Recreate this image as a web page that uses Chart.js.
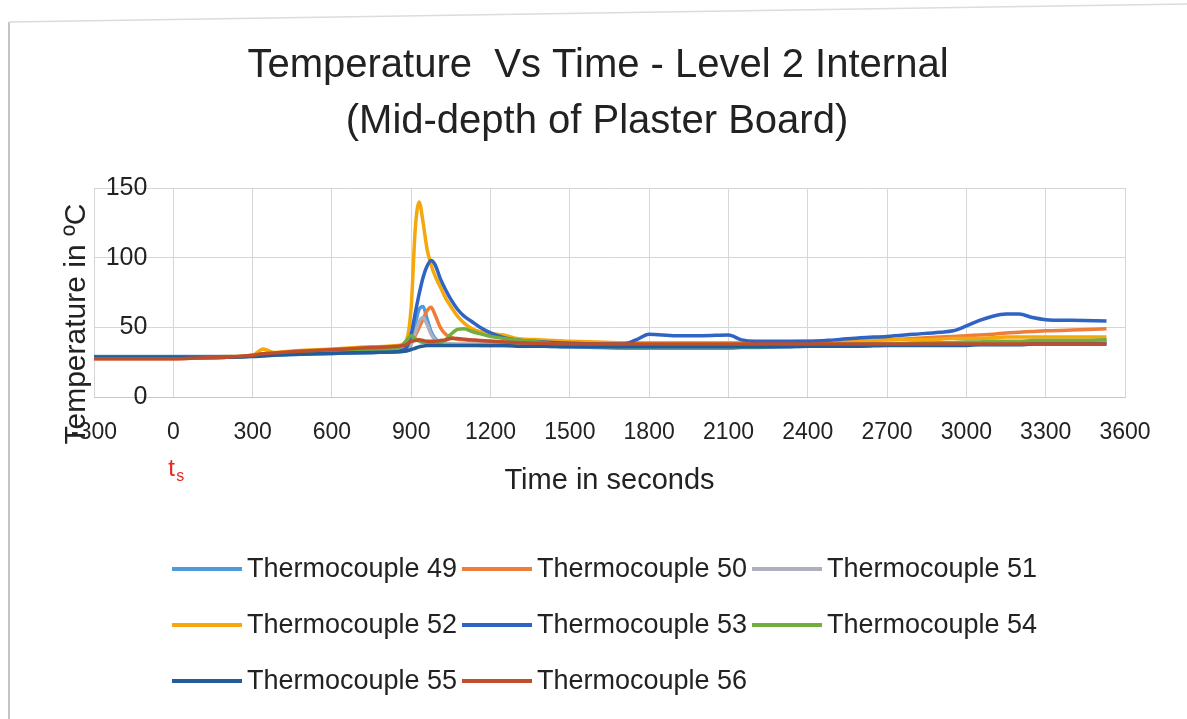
<!DOCTYPE html>
<html>
<head>
<meta charset="utf-8">
<title>Temperature Vs Time - Level 2 Internal</title>
<script src="https://cdn.jsdelivr.net/npm/chart.js@4.4.1/dist/chart.umd.min.js"></script>
<style>
  html, body { margin: 0; padding: 0; background: #ffffff; }
  #wrap { position: relative; width: 1187px; height: 719px; }
</style>
</head>
<body>
<div id="wrap"><canvas id="c"></canvas></div>
<script>
// ---- data ----
const titleLines = ['Temperature  Vs Time - Level 2 Internal', '(Mid-depth of Plaster Board)'];
const xTitle = 'Time in seconds';
const yTitle = 'Temperature in ºC';
const xTicks = [-300, 0, 300, 600, 900, 1200, 1500, 1800, 2100, 2400, 2700, 3000, 3300, 3600];
const yTicks = [0, 50, 100, 150];
const seriesNames = ['Thermocouple 49', 'Thermocouple 50', 'Thermocouple 51', 'Thermocouple 52',
                     'Thermocouple 53', 'Thermocouple 54', 'Thermocouple 55', 'Thermocouple 56'];

const times = [-300,-200,-100,0,100,200,300,340,380,450,
               550,650,750,850,880,900,915,930,945,960,
               975,990,1010,1030,1050,1075,1100,1130,1160,1200,
               1250,1300,1400,1500,1600,1700,1750,1800,1900,2000,
               2100,2150,2200,2300,2400,2500,2600,2700,2800,2900,
               2950,3000,3050,3100,3150,3200,3250,3300,3400,3530];

const tc49 = [29,29,29,29,29,29,29.5,30,30,30.5,
              31,31.5,32,32.5,33,38,52,63,65,56,
              47,42,39.5,38.5,38,37.5,37.5,37.5,37,37,
              37,37,36.5,36,35.5,35,35,35,35,35,
              35,35.5,35.5,36,36.5,37,37,37.5,38,38,
              38.5,38.5,39,39,39,39.5,39.5,40,40,40];
const tc50 = [27.5,27.5,27.5,27.5,28,28.5,30,31,31.5,32.5,
              33.5,34.5,35,36,37,40,44,50,56,62,
              64.5,59,50,45,43,41.5,41,40.5,40,40,
              39.5,39,38.5,38,38,38,38,38,38,38.5,
              38.5,38.5,39,39,39.5,40,40.5,41,42,43,
              43.5,44,44.5,45,46,46.5,47,47.5,48,49];
const tc51 = [28,28,28,28,28,28.5,29.5,30,30.5,31,
              32,33,33.5,34,35,38,46,54,57,52,
              45,41,39,38.5,38,38,38,38,38,38,
              38,38,37.5,37,37,37,37,37,37,37,
              37,37,37,37.5,37.5,38,38,38,38.5,38.5,
              38.5,39,39,39,39.5,39.5,39.5,40,40,40.5];
const tc52 = [28,28,28,28,28.5,29,30,34.5,32,33,
              34,35,36,37,40,65,120,140,125,106,
              95,87,79,71,65,58,53,49,47,45.5,
              44.5,42,41,40,39.5,39,39,39,39,39,
              39,39,39,39.5,40,40,40.5,41,41,41.5,
              42,42,42,42.5,43,43,43,43,43,43];
const tc53 = [28.5,28.5,28.5,28.5,28.5,28.5,29.5,30,30.5,31,
              31.5,32,32,33,35,45,60,74,86,94,
              98,95,85,77,70,63,58,54,50,46,
              42.5,41,39.5,38.5,38,38,41,45,44,44,
              44.5,41,40,40,40,41,42.5,43.5,45,46.5,
              47.5,51,55,58,59.5,59.5,57,55.5,55,54.5];
const tc54 = [28,28,28,28,28,28.5,29.5,30,30.5,31.5,
              32.5,33.5,34,35,40,44,42,40,39,38.5,
              38,38,39,41,45,48.5,49,47,45.5,43.5,
              42,41,39,37.5,36.5,36,36,36,36,36,
              36,36,36,36.5,37,37.5,38,38,38.5,39,
              39,39.5,39.5,40,40,40,40.5,40.5,40.5,41];
const tc55 = [28.5,28.5,28.5,28.5,28.5,28.5,29,29.5,30,30.5,
              31,31.5,32,32.5,33,34,35,36,36.5,37,
              37,37,37,37,37,37,37,37,37,37,
              37,36.5,36.5,36,36,36,36,36,36,36,
              36,36,36,36,36.5,36.5,36.5,37,37,37,
              37,37,37.5,37.5,37.5,37.5,38,38,38,38];
const tc56 = [27.5,27.5,27.5,27.5,28,28.5,30,31,31.5,32.5,
              33.5,34.5,35.5,36.5,37.5,40,40.5,41,40.5,40,
              40,40,40.5,41,42,42,41.5,41,40.5,40,
              39.5,39,38.5,38,38,38,38,38,38,38,
              38,38,38,38,38,38,38,38,38,38,
              38,38,38,38,38,38,38,38,38,38];

const seriesValues = [tc49, tc50, tc51, tc52, tc53, tc54, tc55, tc56];
const seriesColors = ['#4C9BDD', '#EF7D3A', '#AEB0BE', '#F5A80C', '#2F63C4', '#70AE42', '#225C9A', '#BE4E2C'];

// ---- styling ----
const FONT = "'Liberation Sans', Arial, sans-serif";
const TEXT = '#222222';

const datasets = seriesValues.map((vals, i) => ({
  label: seriesNames[i],
  data: times.map((t, k) => ({ x: t, y: vals[k] })),
  borderColor: seriesColors[i],
  backgroundColor: seriesColors[i],
  borderWidth: 3.5,
  pointRadius: 0,
  cubicInterpolationMode: 'monotone',
  order: seriesValues.length - i
}));

const decorPlugin = {
  id: 'decor',
  afterDraw(chart) {
    const ctx = chart.ctx;
    ctx.save();
    // frame lines of the scanned chart
    ctx.strokeStyle = '#c4c4c4';
    ctx.lineWidth = 2;
    ctx.beginPath();
    ctx.moveTo(9, 22); ctx.lineTo(9, 719);
    ctx.stroke();
    ctx.strokeStyle = '#dcdcdc';
    ctx.lineWidth = 1.5;
    ctx.beginPath();
    ctx.moveTo(9, 22); ctx.lineTo(1187, 4);
    ctx.stroke();

    // title
    ctx.fillStyle = TEXT;
    ctx.textAlign = 'center';
    ctx.textBaseline = 'middle';
    ctx.font = '40px ' + FONT;
    ctx.fillText(titleLines[0], 598, 66);
    ctx.fillText(titleLines[1], 597, 122);

    // y-axis title
    ctx.save();
    ctx.translate(77, 324);
    ctx.rotate(-Math.PI / 2);
    ctx.font = '30px ' + FONT;
    ctx.fillText(yTitle, 0, 0);
    ctx.restore();

    // red t_s marker under x = 0
    const x0 = chart.scales.x.getPixelForValue(0);
    ctx.fillStyle = '#E8261E';
    ctx.textAlign = 'left';
    ctx.textBaseline = 'alphabetic';
    ctx.font = '24px ' + FONT;
    ctx.fillText('t', x0 - 5, 476);
    ctx.font = '16px ' + FONT;
    ctx.fillText('s', x0 + 3, 481);

    // legend: 3 columns
    const colX = [172, 462, 752];
    const rowY = [569, 625, 681];
    ctx.font = '27px ' + FONT;
    ctx.textBaseline = 'middle';
    chart.data.datasets.forEach((ds, i) => {
      const cx = colX[i % 3];
      const cy = rowY[Math.floor(i / 3)];
      ctx.strokeStyle = ds.borderColor;
      ctx.lineWidth = 4;
      ctx.lineCap = 'butt';
      ctx.beginPath();
      ctx.moveTo(cx, cy);
      ctx.lineTo(cx + 70, cy);
      ctx.stroke();
      ctx.fillStyle = TEXT;
      ctx.fillText(ds.label, cx + 75, cy + 1);
    });
    ctx.restore();
  }
};

new Chart(document.getElementById('c'), {
  type: 'line',
  data: { datasets },
  options: {
    responsive: true,
    maintainAspectRatio: false,
    animation: false,
    layout: { padding: { left: 94, right: 62, top: 188, bottom: 221 } },
    plugins: {
      legend: { display: false },
      title: { display: false },
      tooltip: { enabled: false }
    },
    scales: {
      x: {
        type: 'linear',
        min: xTicks[0],
        max: xTicks[xTicks.length - 1],
        afterBuildTicks: s => { s.ticks = xTicks.map(v => ({ value: v })); },
        afterFit: s => { s.height = 101; },
        grid: { color: '#d6d6d6', lineWidth: 1, drawTicks: false },
        border: { display: true, color: '#c8c8c8', width: 1 },
        ticks: {
          autoSkip: false, maxRotation: 0, padding: 22,
          color: TEXT, font: { family: FONT, size: 23 },
          callback: v => String(v)
        },
        title: {
          display: true, text: xTitle, color: TEXT,
          font: { family: FONT, size: 29 }, padding: { top: 0, bottom: 0 }
        }
      },
      y: {
        type: 'linear',
        // labels sit just left of the t = 0 gridline, as in the reference
        position: { x: -98 },
        min: yTicks[0],
        max: yTicks[yTicks.length - 1],
        afterBuildTicks: s => { s.ticks = yTicks.map(v => ({ value: v })); },
        grid: { color: '#d6d6d6', lineWidth: 1, drawTicks: false },
        border: { display: false },
        ticks: { padding: 0, color: TEXT, font: { family: FONT, size: 25 },
                 callback: v => String(v) }
      }
    }
  },
  plugins: [decorPlugin]
});
</script>
</body>
</html>
